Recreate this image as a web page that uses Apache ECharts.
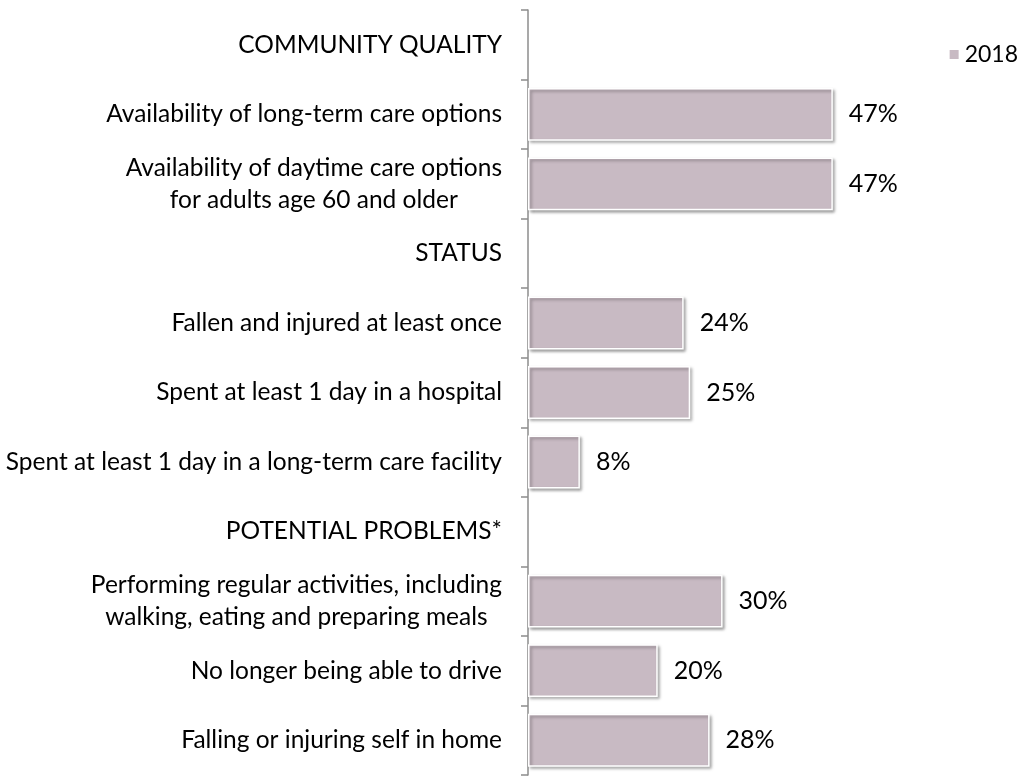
<!DOCTYPE html>
<html>
<head>
<meta charset="utf-8">
<title>Care options and status</title>
<script src="https://cdn.jsdelivr.net/npm/echarts@6/dist/echarts.min.js"></script>
<style>
  html, body { margin: 0; padding: 0; background: #fff; }
  #chart { width: 1027px; height: 776px; }
</style>
</head>
<body>
<div id="chart"></div>
<script>
// 类目（从上到下），空值行是分组标题
var categories = [
  'COMMUNITY QUALITY',
  'Availability of long-term care options',
  'Availability of daytime care options\nfor adults age 60 and older',
  'STATUS',
  'Fallen and injured at least once',
  'Spent at least 1 day in a hospital',
  'Spent at least 1 day in a long-term care facility',
  'POTENTIAL PROBLEMS*',
  'Performing regular activities, including\nwalking, eating and preparing meals',
  'No longer being able to drive',
  'Falling or injuring self in home'
]
var values2018 = [null, 47, 47, null, 24, 25, 8, null, 30, 20, 28]
var seriesName = '2018'

var barColor = '#c8bac3'
var fontFamily = 'Lato, "Open Sans", sans-serif'

var chart = echarts.init(document.getElementById('chart'))
chart.setOption({
  animation: false,
  textStyle: { fontFamily: fontFamily },
  legend: {
    data: [seriesName],
    right: 4,
    top: 38,
    icon: 'rect',
    itemWidth: 11,
    itemHeight: 11,
    textStyle: { fontSize: 23, color: '#000', fontFamily: fontFamily }
  },
  grid: {
    left: 528,
    top: 10,
    width: 454,
    height: 765,
    containLabel: false
  },
  xAxis: {
    type: 'value',
    min: 0,
    max: 70,
    show: false
  },
  yAxis: {
    type: 'category',
    inverse: true,
    data: categories,
    axisLine: { show: true, lineStyle: { color: '#8c8c8c', width: 1.5 } },
    axisTick: { show: true, length: 7, lineStyle: { color: '#8c8c8c', width: 1.5 } },
    axisLabel: {
      margin: 26,
      fontSize: 24.5,
      color: '#000',
      lineHeight: 32,
      fontFamily: fontFamily,
      formatter: function (v) {
        if (v.indexOf('\n') < 0) return v
        return v.split('\n').map(function (s) { return '{c|' + s + '}' }).join('\n')
      },
      rich: {
        c: { align: 'center', fontSize: 24.5, lineHeight: 32, color: '#000', fontFamily: fontFamily }
      }
    }
  },
  series: [
    {
      name: seriesName,
      type: 'bar',
      data: values2018,
      barCategoryGap: '24%',
      itemStyle: {
        color: barColor,
        borderColor: '#ffffff',
        borderWidth: 1.5,
        shadowColor: 'rgba(0,0,0,0.35)',
        shadowBlur: 3,
        shadowOffsetX: 2,
        shadowOffsetY: 2
      },
      label: {
        show: true,
        position: 'right',
        distance: 16,
        fontSize: 25,
        color: '#000',
        fontFamily: fontFamily,
        formatter: '{c}%'
      }
    }
  ]
})
</script>
</body>
</html>
